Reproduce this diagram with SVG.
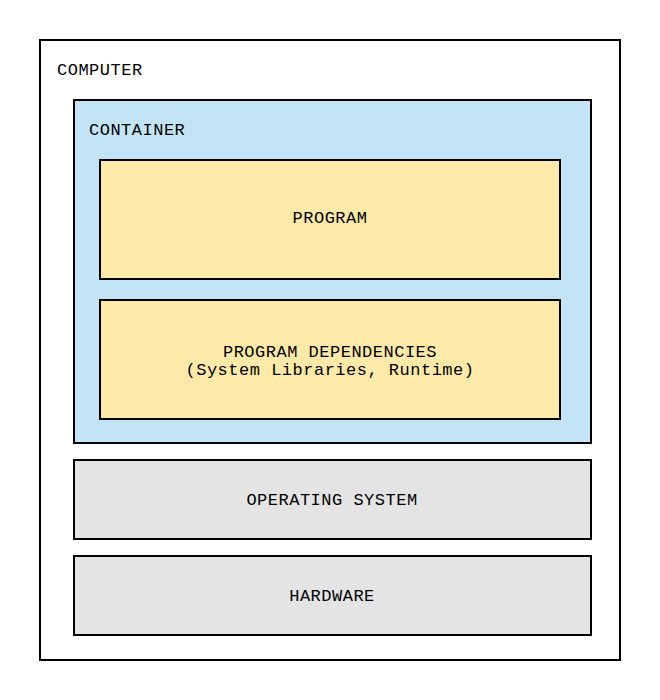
<svg xmlns="http://www.w3.org/2000/svg" width="660" height="700" viewBox="0 0 660 700">
<style>
rect{stroke:#000;stroke-width:2}
text{font-family:"Liberation Mono","DejaVu Sans Mono",monospace;font-size:17px;letter-spacing:0.5px;fill:#000}
.c{text-anchor:middle}
</style>
<rect width="660" height="700" fill="#fff" style="stroke:none"/>
<g id="computer"><rect x="40" y="40" width="580" height="620" fill="#fff"/><text x="57" y="75">COMPUTER</text></g>
<g id="container"><rect x="74" y="100" width="517" height="343" fill="#c3e4f6"/><text x="89" y="135">CONTAINER</text></g>
<g id="program"><rect x="100" y="160" width="460" height="119" fill="#feeaa8"/><text class="c" x="330" y="223">PROGRAM</text></g>
<g id="dependencies"><rect x="100" y="300" width="460" height="119" fill="#feeaa8"/><text class="c" x="330" y="357">PROGRAM DEPENDENCIES</text><text class="c" x="330" y="375">(System Libraries, Runtime)</text></g>
<g id="os"><rect x="74" y="460" width="517" height="79" fill="#e4e4e4"/><text class="c" x="332" y="505">OPERATING SYSTEM</text></g>
<g id="hardware"><rect x="74" y="556" width="517" height="79" fill="#e4e4e4"/><text class="c" x="332" y="601">HARDWARE</text></g>
<g id="connectors"/>
</svg>
